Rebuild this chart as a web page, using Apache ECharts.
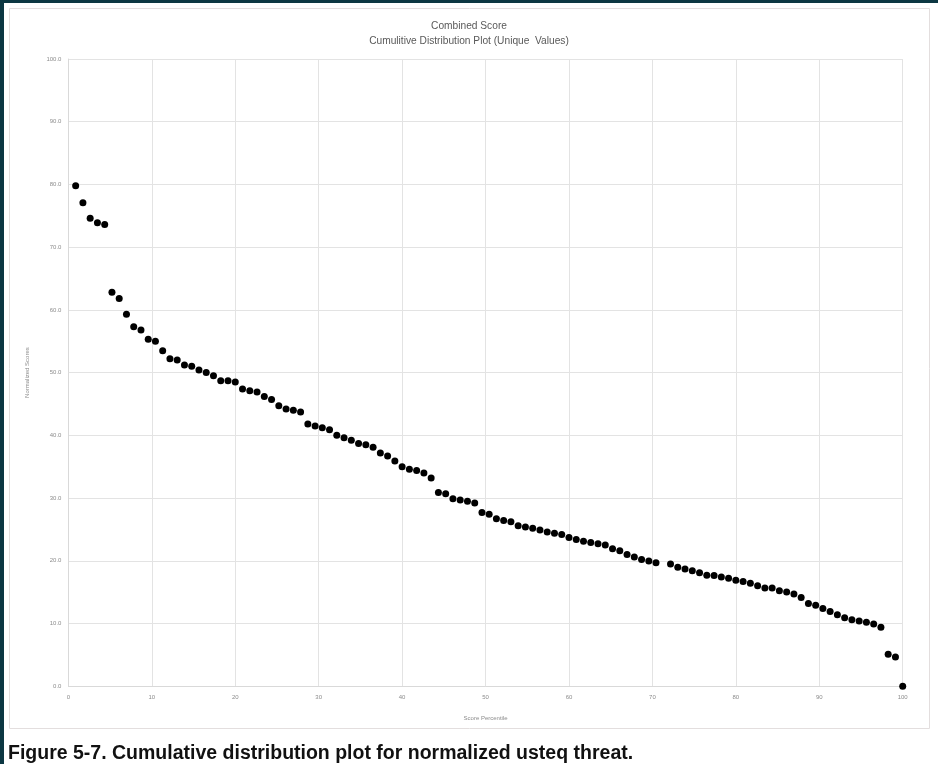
<!DOCTYPE html>
<html>
<head>
<meta charset="utf-8">
<script src="https://cdn.jsdelivr.net/npm/echarts@6/dist/echarts.min.js"></script>
<style>
html,body{margin:0;padding:0;background:#ffffff;}
#chart{width:938px;height:764px;}
</style>
</head>
<body>
<div id="chart"></div>
<script>
// Score percentile (x) for each unique value
var percentiles = [0.87,1.74,2.61,3.48,4.35,5.22,6.09,6.96,7.83,8.70,
  9.57,10.43,11.30,12.17,13.04,13.91,14.78,15.65,16.52,17.39,
  18.26,19.13,20.00,20.87,21.74,22.61,23.48,24.35,25.22,26.09,
  26.96,27.83,28.70,29.57,30.43,31.30,32.17,33.04,33.91,34.78,
  35.65,36.52,37.39,38.26,39.13,40.00,40.87,41.74,42.61,43.48,
  44.35,45.22,46.09,46.96,47.83,48.70,49.57,50.43,51.30,52.17,
  53.04,53.91,54.78,55.65,56.52,57.39,58.26,59.13,60.00,60.87,
  61.74,62.61,63.48,64.35,65.22,66.09,66.96,67.83,68.70,69.57,
  70.43,72.17,73.04,73.91,74.78,75.65,76.52,77.39,78.26,79.13,
  80.00,80.87,81.74,82.61,83.48,84.35,85.22,86.09,86.96,87.83,
  88.70,89.57,90.43,91.30,92.17,93.04,93.91,94.78,95.65,96.52,
  97.39,98.26,99.13,100.00];
// Normalized scores (y)
var scores = [79.8,77.1,74.6,73.9,73.6,62.8,61.8,59.3,57.3,56.8,
  55.3,55.0,53.5,52.2,52.0,51.2,51.0,50.4,50.0,49.5,
  48.7,48.7,48.5,47.4,47.1,46.9,46.2,45.7,44.7,44.2,
  44.0,43.7,41.8,41.5,41.2,40.9,40.0,39.6,39.2,38.7,
  38.5,38.1,37.2,36.7,35.9,35.0,34.6,34.4,34.0,33.2,
  30.9,30.7,29.9,29.7,29.5,29.2,27.7,27.4,26.7,26.4,
  26.2,25.6,25.4,25.2,24.9,24.6,24.4,24.2,23.7,23.4,
  23.1,22.9,22.7,22.5,21.9,21.6,21.0,20.6,20.2,19.95,
  19.7,19.5,18.95,18.7,18.4,18.1,17.7,17.65,17.4,17.2,
  16.9,16.7,16.4,16.0,15.65,15.65,15.2,15.0,14.7,14.15,
  13.2,12.9,12.4,11.9,11.4,10.9,10.6,10.4,10.2,9.9,
  9.4,5.1,4.65,0];
var titleText = 'Combined Score';
var subtitleText = 'Cumulitive Distribution Plot (Unique  Values)';
var xName = 'Score Percentile';
var yName = 'Normalized Scores';
var captionText = 'Figure 5-7. Cumulative distribution plot for normalized usteq threat.';

var points = [];
for (var i = 0; i < scores.length; i++) points.push([percentiles[i], scores[i]]);

var chart = echarts.init(document.getElementById('chart'), null, {renderer: 'canvas'});
chart.setOption({
  animation: false,
  backgroundColor: '#ffffff',
  graphic: [
    {type: 'rect', z: -10, silent: true, shape: {x: 0, y: 0, width: 938, height: 3}, style: {fill: '#0c3742'}},
    {type: 'rect', z: -10, silent: true, shape: {x: 0, y: 0, width: 4, height: 764}, style: {fill: '#0c3742'}},
    {type: 'rect', z: -9, silent: true, shape: {x: 9.5, y: 8.5, width: 920, height: 720}, style: {fill: '#ffffff', stroke: '#e3dede', lineWidth: 1}}
  ],
  title: [
    {text: titleText, left: 'center', top: 16, textStyle: {fontFamily: 'Liberation Sans', fontSize: 10.2, fontWeight: 'normal', color: '#595959'}},
    {text: subtitleText, left: 'center', top: 31, textStyle: {fontFamily: 'Liberation Sans', fontSize: 10.2, fontWeight: 'normal', color: '#595959'}},
    {text: captionText, left: 3, top: 739, textStyle: {fontFamily: 'Liberation Sans', fontSize: 19.5, fontWeight: 'bold', color: '#111111'}}
  ],
  grid: {left: 68.4, right: 35.3, top: 59, bottom: 77.8, containLabel: false},
  xAxis: {
    type: 'value', min: 0, max: 100, interval: 10,
    name: xName, nameLocation: 'middle', nameGap: 29,
    nameTextStyle: {fontFamily: 'Liberation Sans', fontSize: 6, color: '#8c8c8c'},
    axisLine: {show: true, lineStyle: {color: '#d9d9d9', width: 1}},
    axisTick: {show: false},
    axisLabel: {fontFamily: 'Liberation Sans', fontSize: 6, color: '#8c8c8c', margin: 8},
    splitLine: {show: true, lineStyle: {color: '#e3e3e3', width: 1}}
  },
  yAxis: {
    type: 'value', min: 0, max: 100, interval: 10,
    name: yName, nameLocation: 'middle', nameGap: 38, nameRotate: 90,
    nameTextStyle: {fontFamily: 'Liberation Sans', fontSize: 6, color: '#8c8c8c'},
    axisLine: {show: true, lineStyle: {color: '#d9d9d9', width: 1}},
    axisTick: {show: false},
    axisLabel: {fontFamily: 'Liberation Sans', fontSize: 6, color: '#8c8c8c', margin: 7,
      formatter: function (v) { return v.toFixed(1); }},
    splitLine: {show: true, lineStyle: {color: '#e3e3e3', width: 1}}
  },
  series: [{
    type: 'scatter',
    data: points,
    symbol: 'circle',
    symbolSize: 7,
    itemStyle: {color: '#000000', opacity: 1}
  }]
});
</script>
</body>
</html>
